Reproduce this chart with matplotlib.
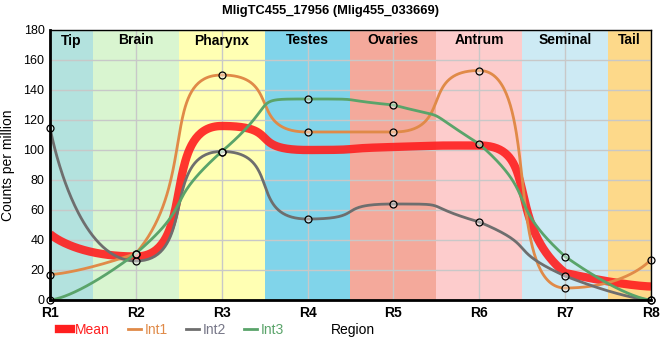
import matplotlib
matplotlib.use("Agg")
import matplotlib.pyplot as plt
from matplotlib.lines import Line2D
import numpy as np

plt.rcParams['font.family'] = ['Liberation Sans', 'DejaVu Sans']

regions = ["R1", "R2", "R3", "R4", "R5", "R6", "R7", "R8"]
tissues = ["Tip", "Brain", "Pharynx", "Testes", "Ovaries", "Antrum", "Seminal", "Tail"]
tissue_colors = ["#b3e2de", "#d9f5d0", "#ffffb3", "#80d4ea", "#f4a99b", "#fdcccc", "#cdeaf4", "#fdd98a"]

int1 = [17, 31, 150, 112, 112, 153, 8, 27]
int2 = [115, 26, 99, 54, 64, 52, 16, 0]
int3 = [0, 31, 99, 134, 130, 104, 29, 0]
mean = [44, 29, 116, 100, 102, 103, 18, 9]

K = 0.72  # control point offset (fraction of spacing)


def spline(ys):
    ys = np.asarray(ys, float)
    n = len(ys)
    m = np.zeros(n)
    for i in range(1, n - 1):
        a, b, c = ys[i - 1], ys[i], ys[i + 1]
        if (b >= a and b >= c) or (b <= a and b <= c):
            m[i] = 0
        else:
            m[i] = (c - a) / 2
    t = np.linspace(0, 1, 80)
    xs_out, ys_out = [], []
    for i in range(n - 1):
        x0, x1 = i, i + 1
        y0, y1 = ys[i], ys[i + 1]
        lo, hi = min(y0, y1), max(y0, y1)
        k0 = 0 if i == 0 else K
        k1 = 0 if i + 1 == n - 1 else K
        c1x, c1y = x0 + k0, np.clip(y0 + m[i] * k0, lo, hi)
        c2x, c2y = x1 - k1, np.clip(y1 - m[i + 1] * k1, lo, hi)
        bx = (1 - t) ** 3 * x0 + 3 * (1 - t) ** 2 * t * c1x + 3 * (1 - t) * t ** 2 * c2x + t ** 3 * x1
        by = (1 - t) ** 3 * y0 + 3 * (1 - t) ** 2 * t * c1y + 3 * (1 - t) * t ** 2 * c2y + t ** 3 * y1
        xs_out.append(bx)
        ys_out.append(by)
    return np.concatenate(xs_out), np.concatenate(ys_out)


fig = plt.figure(figsize=(6.6, 3.6), dpi=100)
ax = fig.add_axes([50 / 660, 60 / 360, 601 / 660, 270 / 360])

x = np.arange(len(regions))
for i, (name, col) in enumerate(zip(tissues, tissue_colors)):
    left = max(i - 0.5, 0)
    right = min(i + 0.5, len(regions) - 1)
    ax.axvspan(left, right, color=col, lw=0, zorder=0)
    ax.text((left + right) / 2, 173, name, ha="center", va="center",
            fontsize=10, fontweight="bold", zorder=5)

ax.set_xlim(0, len(regions) - 1)
ax.set_ylim(0, 180)
ax.set_yticks(range(0, 181, 20))
ax.set_xticks(x)
ax.set_xticklabels(regions, fontweight="bold", fontsize=10)
ax.tick_params(axis="y", labelsize=9, length=0, pad=4)
ax.tick_params(axis="x", length=0, pad=4)
ax.grid(True, color="#c8c8c8", lw=1, zorder=1)
ax.set_axisbelow(False)

for s in ["left", "bottom"]:
    ax.spines[s].set_linewidth(2)
for s in ["top", "right"]:
    ax.spines[s].set_linewidth(1)
for sp in ax.spines.values():
    sp.set_zorder(6)

c_mean = "#ff1f1f"
c1, c2, c3 = "#e08a48", "#6e6e6e", "#5aa46a"

sx, sy = spline(mean)
ax.plot(sx, sy, color=c_mean, lw=6, alpha=0.9, solid_capstyle="butt", zorder=3)
for ys, col in [(int1, c1), (int2, c2), (int3, c3)]:
    sx, sy = spline(ys)
    ax.plot(sx, sy, color=col, lw=2, zorder=4)
    ax.plot(x, ys, "o", ms=5, mfc=(1, 1, 1, 0.4), mec="black", mew=0.9,
            zorder=5, clip_on=False)

ax.set_ylabel("Counts per million", fontsize=10, labelpad=6)
fig.suptitle("MligTC455_17956 (Mlig455_033669)", fontsize=9.3, fontweight="bold", y=0.985)

handles = [Line2D([], [], color=c_mean, lw=6),
           Line2D([], [], color=c1, lw=2),
           Line2D([], [], color=c2, lw=2),
           Line2D([], [], color=c3, lw=2)]
fig.legend(handles, ["Mean", "Int1", "Int2", "Int3"], loc="center left",
           bbox_to_anchor=(0.07, 0.083), ncol=4, frameon=False, fontsize=10,
           handlelength=0.9, handletextpad=0.3, columnspacing=1.3,
           labelcolor=[c_mean, c1, "#777788", c3])
fig.text(331 / 660, 0.083, "Region", fontsize=10, va="center", ha="left")

fig.savefig("out.png", dpi=100)
